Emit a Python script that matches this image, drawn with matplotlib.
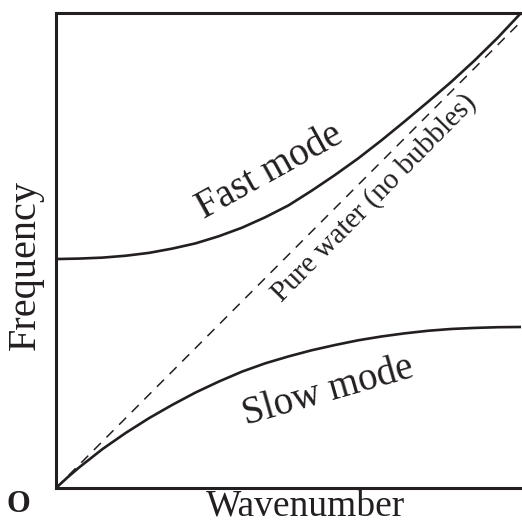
import matplotlib
matplotlib.use("Agg")
import matplotlib.pyplot as plt

# Fast mode branch (wavenumber, frequency)
fast_k = [0.0, 0.05, 0.1, 0.15, 0.2, 0.25, 0.3, 0.35, 0.4, 0.45, 0.5,
          0.55, 0.6, 0.65, 0.7, 0.75, 0.8, 0.85, 0.9, 0.95, 1.0]
fast_w = [0.482, 0.483, 0.485, 0.489, 0.495, 0.504, 0.515, 0.530, 0.548, 0.570, 0.595,
          0.626, 0.659, 0.694, 0.732, 0.772, 0.813, 0.855, 0.900, 0.948, 1.0]

# Slow mode branch
slow_k = [0.0, 0.025, 0.05, 0.1, 0.15, 0.2, 0.25, 0.3, 0.35, 0.4, 0.45, 0.5,
          0.55, 0.6, 0.65, 0.7, 0.75, 0.8, 0.85, 0.9, 0.95, 1.0]
slow_w = [0.0, 0.0225, 0.0435, 0.082, 0.116, 0.147, 0.175, 0.201, 0.224, 0.245, 0.2625, 0.277,
          0.290, 0.301, 0.311, 0.319, 0.3256, 0.331, 0.3348, 0.337, 0.3385, 0.339]

# Pure water line
water_k = [0.0, 1.0]
water_w = [0.0, 0.982]

ink = "#231f20"
serif = ["Liberation Serif", "DejaVu Serif"]

fig = plt.figure(figsize=(5.22, 5.24), dpi=100)
ax = fig.add_axes([56 / 522, 36 / 524, 465 / 522, 475 / 524])
ax.set_xlim(0, 1)
ax.set_ylim(0, 1)

ax.plot(fast_k, fast_w, color=ink, lw=1.9, solid_capstyle="butt",
        solid_joinstyle="round", clip_on=False)
ax.plot(slow_k, slow_w, color=ink, lw=1.9, solid_capstyle="butt",
        solid_joinstyle="round", clip_on=False)
ax.plot(water_k, water_w, color=ink, lw=1.1, dashes=(6.5, 5.2), clip_on=False)

for s in ["left", "top", "bottom"]:
    ax.spines[s].set_linewidth(2.2)
    ax.spines[s].set_color(ink)
ax.spines["right"].set_visible(False)
ax.set_xticks([])
ax.set_yticks([])

ax.text(0.46, 0.665, "Fast mode", rotation=29, ha="center", va="center",
        fontsize=28, family=serif, color=ink, rotation_mode="anchor")
ax.text(0.585, 0.202, "Slow mode", rotation=16, ha="center", va="center",
        fontsize=28, family=serif, color=ink, rotation_mode="anchor")
ax.text(0.684, 0.610, "Pure water (no bubbles)", rotation=45.5, ha="center", va="center",
        fontsize=21, family=serif, color=ink, rotation_mode="anchor")

fig.text(306 / 522, 1 - 506 / 524, "Wavenumber", ha="center", va="center",
         fontsize=27, family=serif, color=ink)
fig.text(25 / 522, 1 - 265 / 524, "Frequency", ha="center", va="center",
         rotation=90, fontsize=29, family=serif, color=ink)
fig.text(18 / 522, 1 - 505 / 524, "O", ha="center", va="center",
         fontsize=22, family=serif, weight="bold", color=ink)

fig.savefig("out.png", dpi=100)
